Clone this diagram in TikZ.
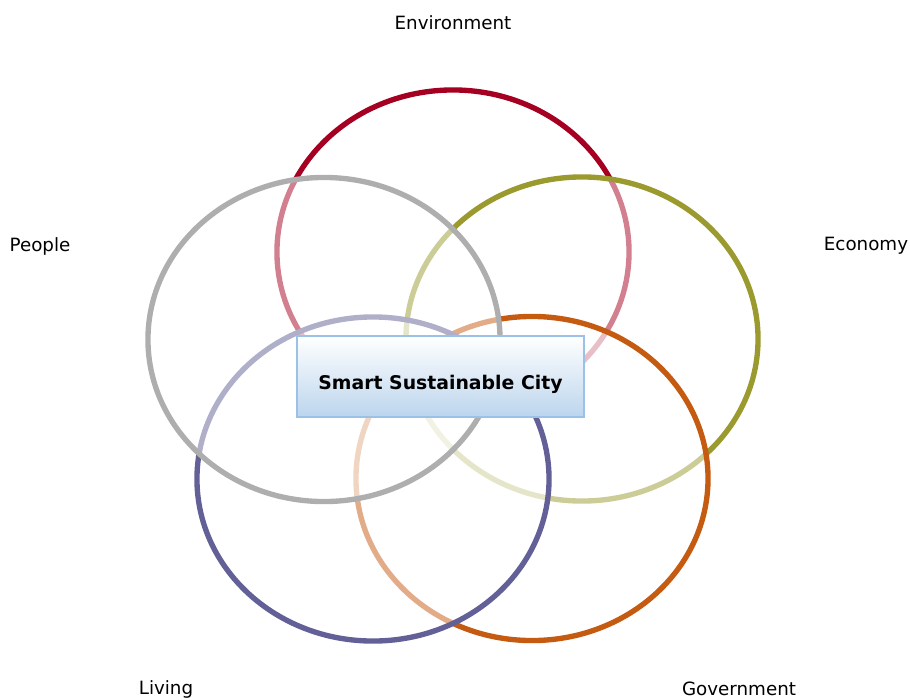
\documentclass[tikz,border=0pt]{standalone}
\usepackage{fontspec}
\setmainfont{DejaVu Sans}
\usepackage{tikz}
\usetikzlibrary{positioning, shapes.geometric}
\definecolor{envred}{RGB}{165,0,33}
\definecolor{ppgray}{RGB}{174,174,174}
\definecolor{ecoolive}{RGB}{154,154,46}
\definecolor{livpurple}{RGB}{98,96,150}
\definecolor{govorange}{RGB}{197,90,17}
\definecolor{boxblue}{RGB}{188,213,237}
\definecolor{boxline}{RGB}{155,194,230}

\begin{document}
\begin{tikzpicture}[x=0.025cm, y=-0.025cm,
  every node/.style={font=\fontsize{13}{15}\selectfont},
  venn/.style={ellipse, inner sep=0pt, line width=3.8pt,
    minimum width=8.8cm, minimum height=8.1cm,
    fill=white, fill opacity=0.5, draw opacity=1}]
  \useasboundingbox (0,0) rectangle (910,699);
  % rings, bottom one first
  \foreach \n/\c/\x/\y in {env/envred/453/252, eco/ecoolive/582/339,
      gov/govorange/532/478.5, liv/livpurple/373/479, ppl/ppgray/324/339.5} {
    \node[venn, draw=\c] (\n) at (\x,\y) {};
  }

  \node[draw=boxline, line width=1.2pt, top color=white, bottom color=boxblue,
        minimum width=7.175cm, minimum height=2.025cm,
        text height=18pt, text depth=0pt,
        font=\fontsize{13.4}{16}\selectfont\bfseries]
    (city) at (440.5,376.5) {Smart Sustainable City};

  \foreach \n/\t/\x/\y in {tenv/Environment/453/23, tppl/People/40/246,
      teco/Economy/866/246, tliv/Living/166/689, tgov/Government/739/689} {
    \node (\n) at (\x,\y) {\t};
  }
\end{tikzpicture}
\end{document}
